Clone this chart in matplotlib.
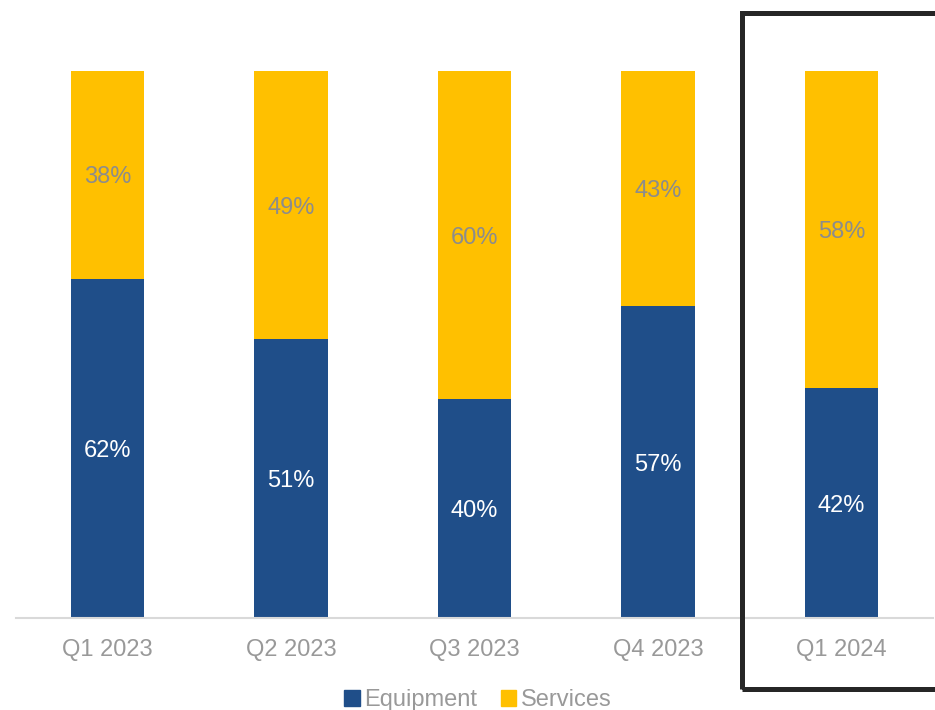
import matplotlib.pyplot as plt
import numpy as np
from matplotlib.patches import Rectangle, Patch
from matplotlib.transforms import offset_copy

plt.rcParams['font.family'] = ['Liberation Sans', 'DejaVu Sans']

quarters = ['Q1 2023', 'Q2 2023', 'Q3 2023', 'Q4 2023', 'Q1 2024']
equipment = [62, 51, 40, 57, 42]
services = [38, 49, 60, 43, 58]

blue = '#1F4E89'
yellow = '#FFC000'
gray = '#999999'

fig = plt.figure(figsize=(9.35, 7.1), dpi=100)
ax = fig.add_axes([16 / 935, 92 / 710, 917 / 935, 547 / 710])

x = np.arange(len(quarters))
eq = np.array(equipment)
sv = np.array(services)
ax.bar(x, eq, width=0.4, color=blue)
ax.bar(x, sv, width=0.4, bottom=eq, color=yellow)

# nudge labels down a little
lbl_tr = offset_copy(ax.transData, fig=fig, x=0, y=-2.5, units='dots')
for i in range(len(x)):
    ax.text(x[i], eq[i] / 2, f'{equipment[i]}%', ha='center', va='center',
            color='white', fontsize=17, transform=lbl_tr)
    ax.text(x[i], eq[i] + sv[i] / 2, f'{services[i]}%', ha='center', va='center',
            color='#8C8C8C', fontsize=17, transform=lbl_tr)

ax.set_xlim(-0.5, len(x) - 0.5)
ax.set_ylim(0, 100)
ax.set_xticks(x)
ax.set_xticklabels(quarters, fontsize=17, color=gray)
ax.tick_params(axis='x', length=0, pad=15)
ax.set_yticks([])
for s in ['top', 'right', 'left']:
    ax.spines[s].set_visible(False)
ax.spines['bottom'].set_color('#D9D9D9')
ax.spines['bottom'].set_linewidth(1.5)

# highlight box around latest quarter
fig.patches.append(Rectangle((742 / 935, 21.5 / 710), 0.4, 676 / 710,
                             transform=fig.transFigure, fill=False,
                             edgecolor='#262626', linewidth=3.6, zorder=5))

handles = [Patch(color=blue, label='Equipment'), Patch(color=yellow, label='Services')]
leg = fig.legend(handles=handles, loc='center', bbox_to_anchor=(478 / 935, 1 - 700 / 710),
                 ncol=2, frameon=False, fontsize=17, handlelength=0.65, handleheight=0.65,
                 handletextpad=0.2, columnspacing=1.0)
for t in leg.get_texts():
    t.set_color(gray)

fig.savefig('out.png', dpi=100)
